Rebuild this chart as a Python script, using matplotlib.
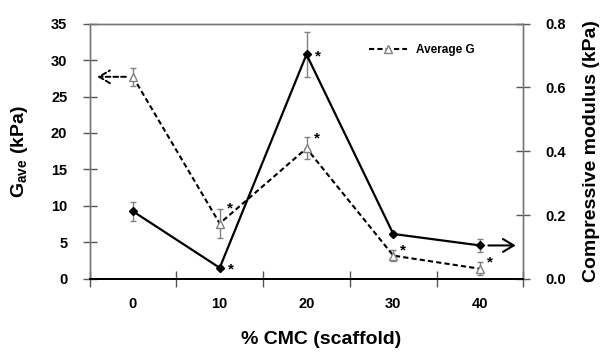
import numpy as np
import matplotlib
matplotlib.use('Agg')
import matplotlib.pyplot as plt

plt.rcParams['font.family'] = ['Liberation Sans', 'DejaVu Sans']
plt.rcParams['font.weight'] = 'bold'
plt.rcParams['mathtext.fontset'] = 'custom'
plt.rcParams['mathtext.rm'] = 'Liberation Sans:bold'
plt.rcParams['mathtext.bf'] = 'Liberation Sans:bold'

# data
cmc = ['0', '10', '20', '30', '40']
g_ave = [27.7, 7.6, 17.9, 3.2, 1.4]          # kPa, left axis
g_err = [1.2, 2.0, 1.5, 0.8, 0.9]
g_sig = [False, True, True, True, True]
modulus = [0.212, 0.035, 0.703, 0.141, 0.105]  # kPa, right axis
mod_err = [0.030, 0.005, 0.070, 0.007, 0.020]
mod_sig = [False, True, True, False, False]

x = np.arange(len(cmc))
gray = '#808080'

fig = plt.figure(figsize=(6.02, 3.54), dpi=100)
ax = fig.add_axes([0.1487, 0.2119, 0.7209, 0.7217])
ax2 = ax.twinx()

# average G (dashed, hollow triangles)
ax.errorbar(x, g_ave, yerr=g_err, fmt='none', ecolor=gray, elinewidth=1,
            capsize=2.2, capthick=1, zorder=2)
ax.plot(x, g_ave, color='black', lw=1.5, ls=(0, (2.5, 1.5)), marker='^',
        ms=6, mfc='white', mec=gray, mew=1, label='Average G', zorder=3)

# compressive modulus (solid, filled diamonds)
ax2.errorbar(x, modulus, yerr=mod_err, fmt='none', ecolor=gray, elinewidth=1,
             capsize=2.2, capthick=1, zorder=2)
ax2.plot(x, modulus, color='black', lw=1.6, marker='D', ms=4, mfc='black',
         mec='black', zorder=3)

# significance stars
g_off = [(0, 0), (10, 15), (10, 10), (10, 5), (10, 6)]
for i in range(len(cmc)):
    if g_sig[i]:
        ax.annotate('*', (x[i], g_ave[i]), xytext=g_off[i], textcoords='offset pixels',
                    ha='center', va='center', fontsize=11, fontweight='bold')
    if mod_sig[i]:
        ax2.annotate('*', (x[i], modulus[i]), xytext=(11, -2), textcoords='offset pixels',
                     ha='center', va='center', fontsize=11, fontweight='bold')

# axis arrows
head = '->,head_width=0.33,head_length=0.55'
ax.annotate('', xy=(0.018, g_ave[0]), xycoords=('axes fraction', 'data'),
            xytext=(x[0], g_ave[0]), textcoords='data',
            arrowprops=dict(arrowstyle=head, lw=1.4, ls=(0, (2.5, 1.5)),
                            shrinkA=5, shrinkB=0, mutation_scale=14))
ax2.annotate('', xy=(0.982, modulus[-1]), xycoords=('axes fraction', 'data'),
             xytext=(x[-1], modulus[-1]), textcoords='data',
             arrowprops=dict(arrowstyle=head, lw=1.5, shrinkA=6, shrinkB=0,
                             mutation_scale=14))

# axes
ax.set_xlim(-0.5, 4.5)
ax.set_ylim(0, 35)
ax2.set_ylim(0, 0.8)
ax.set_xticks(np.arange(-0.5, 5, 1))
ax.set_xticklabels([])
ax.set_xticks(x, minor=True)
ax.set_xticklabels(cmc, minor=True)
ax.tick_params(axis='x', which='major', direction='inout', length=11, width=1, color='#555555')
ax.tick_params(axis='x', which='minor', length=0, pad=13, labelsize=10.5)
ax.set_yticks(np.arange(0, 36, 5))
ax.tick_params(axis='y', direction='inout', length=10, width=1, color='#555555',
               pad=11, labelsize=10.5)
ax2.set_yticks(np.arange(0, 0.81, 0.2))
ax2.set_yticklabels(['%.1f' % v for v in np.arange(0, 0.81, 0.2)])
ax2.tick_params(axis='y', direction='inout', length=10, width=1, color='#555555',
                pad=11, labelsize=10.5)

for a in (ax, ax2):
    for s in ('left', 'right', 'top'):
        a.spines[s].set_color('#777777')
        a.spines[s].set_linewidth(1)
    a.spines['bottom'].set_color('black')
    a.spines['bottom'].set_linewidth(1.3)

ax.set_xlabel('% CMC (scaffold)', fontsize=14, fontweight='bold')
ax.xaxis.set_label_coords(0.534, -0.205)
ax.set_ylabel(r'$\mathbf{G_{ave}}$ (kPa)', fontsize=14, fontweight='bold')
ax.yaxis.set_label_coords(-0.137, 0.5)
ax2.set_ylabel('Compressive modulus (kPa)', fontsize=14, fontweight='bold')
ax2.yaxis.set_label_coords(1.137, 0.5)

ax.legend(loc='upper left', bbox_to_anchor=(0.62, 0.96), frameon=False,
          handlelength=3.2, prop={'size': 8.5, 'weight': 'bold'})

fig.savefig('out.png', dpi=100)
